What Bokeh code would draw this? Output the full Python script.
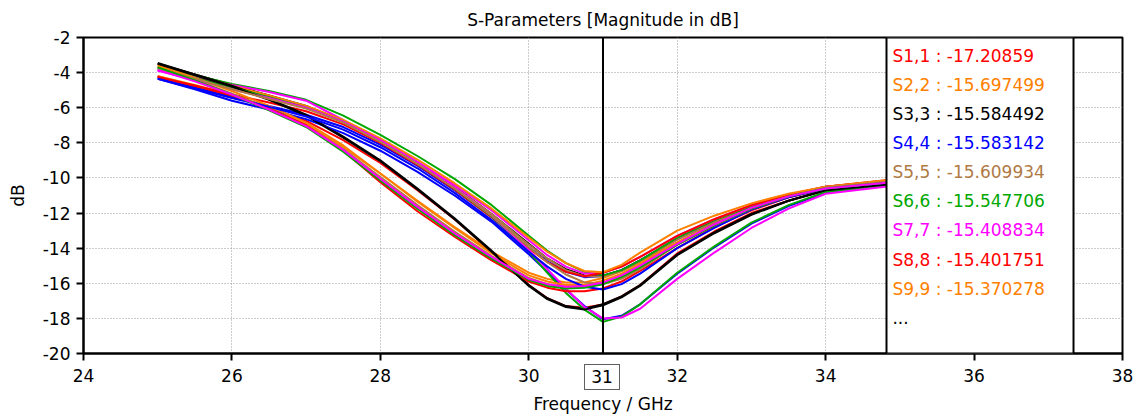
from bokeh.plotting import figure
from bokeh.models import Span, BoxAnnotation, Label, FixedTicker, ColumnDataSource, Div
from bokeh.layouts import column
from bokeh.embed import file_html
from bokeh.resources import INLINE

# ---------------- data ----------------
freq = [25, 25.5, 26, 26.5, 27, 27.5, 28, 28.5, 29, 29.5, 30, 30.25, 30.5, 30.75,
        31, 31.25, 31.5, 32, 32.5, 33, 33.5, 34, 35]

s1_1 = [-4.2, -4.75, -5.35, -6.0, -6.75, -7.85, -9.15, -10.7, -12.35, -14.2, -16.1, -16.85, -17.3, -17.4, -17.21, -16.75, -16.1, -14.3, -13.05, -12.0, -11.3, -10.7, -10.3]
s2_2 = [-4.2, -4.7, -5.25, -6.0, -6.95, -8.25, -9.75, -11.3, -12.8, -14.2, -15.4, -15.75, -15.95, -15.95, -15.70, -15.3, -14.8, -13.65, -12.6, -11.7, -11.05, -10.6, -10.15]
s3_3 = [-3.5, -4.1, -4.7, -5.3, -5.9, -6.75, -7.85, -9.1, -10.5, -12.05, -13.75, -14.6, -15.2, -15.55, -15.58, -15.25, -14.7, -13.45, -12.45, -11.6, -11.0, -10.55, -10.1]
s4_4 = [-4.3, -4.85, -5.4, -5.9, -6.4, -7.1, -8.1, -9.3, -10.7, -12.2, -13.95, -14.75, -15.35, -15.65, -15.58, -15.25, -14.7, -13.5, -12.5, -11.65, -11.05, -10.6, -10.15]
s5_5 = [-3.7, -4.3, -4.85, -5.4, -6.0, -6.8, -7.85, -9.1, -10.5, -12.05, -13.8, -14.6, -15.25, -15.6, -15.61, -15.3, -14.75, -13.5, -12.5, -11.65, -11.0, -10.55, -10.1]
s6_6 = [-3.65, -4.15, -4.65, -5.05, -5.55, -6.45, -7.55, -8.75, -10.05, -11.55, -13.3, -14.15, -14.85, -15.35, -15.55, -15.25, -14.7, -13.4, -12.4, -11.6, -10.95, -10.5, -10.1]
s7_7 = [-3.85, -4.3, -4.7, -5.1, -5.6, -6.7, -7.95, -9.1, -10.4, -11.85, -13.55, -14.4, -15.05, -15.45, -15.41, -15.05, -14.5, -13.3, -12.35, -11.55, -10.95, -10.5, -10.1]
s8_8 = [-4.25, -4.75, -5.25, -5.7, -6.2, -6.95, -8.0, -9.25, -10.65, -12.25, -14.0, -14.8, -15.35, -15.6, -15.40, -15.05, -14.5, -13.3, -12.35, -11.55, -10.95, -10.5, -10.05]
s9_9 = [-3.55, -4.15, -4.75, -5.3, -5.9, -6.7, -7.75, -8.95, -10.3, -11.75, -13.4, -14.2, -14.85, -15.3, -15.37, -14.95, -14.25, -13.0, -12.15, -11.45, -10.9, -10.5, -10.05]
s10_10 = [-3.45, -4.1, -4.75, -5.5, -6.4, -7.65, -9.0, -10.6, -12.3, -14.15, -16.1, -16.85, -17.3, -17.45, -17.19, -16.75, -16.1, -14.35, -13.1, -12.05, -11.3, -10.7, -10.3]
s11_11 = [-4.35, -4.95, -5.6, -6.1, -6.65, -7.45, -8.45, -9.65, -11.0, -12.5, -14.35, -15.35, -16.35, -17.3, -18.05, -17.85, -17.2, -15.45, -13.95, -12.6, -11.6, -10.85, -10.35]
s12_12 = [-3.7, -4.4, -5.2, -6.05, -7.0, -8.35, -9.95, -11.55, -13.05, -14.45, -15.7, -16.05, -16.25, -16.2, -16.0, -15.6, -15.05, -13.8, -12.7, -11.75, -11.1, -10.6, -10.2]
s13_13 = [-3.75, -4.3, -4.85, -5.4, -6.0, -6.8, -7.9, -9.15, -10.6, -12.2, -14.2, -15.4, -16.55, -17.5, -18.2, -17.9, -17.2, -15.4, -13.9, -12.55, -11.55, -10.8, -10.35]
s14_14 = [-3.9, -4.4, -4.95, -5.45, -6.0, -6.8, -7.85, -9.1, -10.55, -12.15, -14.1, -15.2, -16.3, -17.35, -18.0, -17.95, -17.45, -15.75, -14.25, -12.85, -11.75, -10.9, -10.4]
s15_15 = [-4.25, -4.75, -5.3, -6.05, -7.0, -8.45, -10.25, -11.9, -13.35, -14.7, -15.9, -16.25, -16.45, -16.45, -16.3, -15.9, -15.3, -14.0, -12.8, -11.85, -11.1, -10.6, -10.2]
s16_16 = [-3.6, -4.3, -5.05, -5.9, -6.85, -8.15, -9.75, -11.35, -12.85, -14.3, -15.55, -15.9, -16.1, -16.1, -15.85, -15.45, -14.9, -13.7, -12.65, -11.75, -11.05, -10.6, -10.2]
s17_17 = [-3.5, -4.15, -4.8, -5.55, -6.45, -7.7, -9.05, -10.65, -12.35, -14.2, -16.15, -16.9, -17.35, -17.5, -17.25, -16.8, -16.15, -14.4, -13.15, -12.1, -11.3, -10.7, -10.3]
s18_18 = [-4.35, -4.9, -5.45, -5.95, -6.5, -7.25, -8.25, -9.45, -10.85, -12.4, -14.2, -15.05, -15.75, -16.2, -16.35, -16.05, -15.45, -14.0, -12.85, -11.8, -11.1, -10.6, -10.2]
s19_19 = [-3.75, -4.35, -4.95, -5.5, -6.05, -6.85, -7.95, -9.2, -10.6, -12.15, -13.95, -14.8, -15.5, -15.95, -16.05, -15.75, -15.2, -13.8, -12.7, -11.75, -11.05, -10.55, -10.15]
s20_20 = [-3.7, -4.45, -5.25, -6.15, -7.1, -8.5, -10.15, -11.75, -13.25, -14.6, -15.8, -16.15, -16.3, -16.25, -16.05, -15.65, -15.1, -13.8, -12.7, -11.75, -11.05, -10.6, -10.2]
s21_21 = [-3.85, -4.5, -5.25, -6.1, -7.05, -8.4, -10.05, -11.65, -13.15, -14.5, -15.75, -16.05, -16.2, -16.15, -15.95, -15.55, -15.0, -13.75, -12.65, -11.7, -11.05, -10.6, -10.2]

series = [s1_1, s2_2, s3_3, s4_4, s5_5, s6_6, s7_7, s8_8, s9_9, s10_10, s11_11,
          s12_12, s13_13, s14_14, s15_15, s16_16, s17_17, s18_18, s19_19, s20_20, s21_21]

marker_freq = 31
marker_names = ["S1,1", "S2,2", "S3,3", "S4,4", "S5,5", "S6,6", "S7,7", "S8,8", "S9,9"]
marker_values = ["-17.20859", "-15.697499", "-15.584492", "-15.583142", "-15.609934",
                 "-15.547706", "-15.408834", "-15.401751", "-15.370278"]

x_ticks = [24, 26, 28, 30, 32, 34, 36, 38]
y_ticks = [-20, -18, -16, -14, -12, -10, -8, -6, -4, -2]

palette = ["#ff0000", "#ff8000", "#000000", "#0000ff", "#b07a45", "#00a800", "#ff00ff"]

FONT = "DejaVu Sans"
FS = "17px"

# ---------------- figure ----------------
p = figure(width=1137, height=419, output_backend="svg", toolbar_location=None,
           x_range=(24, 38), y_range=(-20, -2),
           title="S-Parameters [Magnitude in dB]",
           x_axis_label="Frequency / GHz", y_axis_label="dB",
           min_border_left=83, min_border_right=15, min_border_top=37, min_border_bottom=66)

p.background_fill_color = "white"
p.border_fill_color = "white"
p.outline_line_color = "black"
p.outline_line_width = 2

p.title.align = "center"
p.title.text_font = FONT
p.title.text_font_size = FS
p.title.text_font_style = "normal"
p.title.text_color = "black"
p.title.standoff = 15

p.xaxis.ticker = FixedTicker(ticks=x_ticks)
p.yaxis.ticker = FixedTicker(ticks=y_ticks)
p.xaxis.major_label_overrides = {t: str(t) for t in x_ticks}
p.yaxis.major_label_overrides = {t: str(t) for t in y_ticks}
for ax in (p.xaxis[0], p.yaxis[0]):
    ax.axis_line_width = 2
    ax.axis_line_color = "black"
    ax.major_tick_in = 0
    ax.major_tick_out = 7
    ax.major_tick_line_width = 2
    ax.major_tick_line_color = "black"
    ax.minor_tick_line_color = None
    ax.major_label_text_font = FONT
    ax.major_label_text_font_size = FS
    ax.major_label_text_color = "black"
    ax.axis_label_text_font = FONT
    ax.axis_label_text_font_size = FS
    ax.axis_label_text_font_style = "normal"
    ax.axis_label_text_color = "black"
p.xaxis.major_label_standoff = 8
p.xaxis.axis_label_standoff = 9
p.yaxis.major_label_standoff = 6
p.yaxis.axis_label_standoff = 12

for g in (p.xgrid[0], p.ygrid[0]):
    g.grid_line_color = "#999999"
    g.grid_line_dash = "1 2"
    g.grid_line_width = 1

# ---------------- curves ----------------
for i, vals in enumerate(series):
    src = ColumnDataSource(data=dict(f=freq, db=vals))
    p.line("f", "db", source=src, line_color=palette[i % len(palette)],
           line_width=2, line_join="round")

# marker line
p.add_layout(Span(location=marker_freq, dimension="height",
                  line_color="black", line_width=2))

# marker value box
p.add_layout(BoxAnnotation(left=34.82, right=37.34, bottom=-20, top=-2,
                           fill_color="white", fill_alpha=1.0,
                           line_color="black", line_alpha=1.0, line_width=2))

row_top = -3.03
row_step = 1.66
for i, (nm, v) in enumerate(zip(marker_names, marker_values)):
    p.add_layout(Label(x=34.9, y=row_top - i * row_step,
                       text=f"{nm} : {v}",
                       text_color=palette[i % len(palette)],
                       text_font=FONT, text_font_size=FS,
                       text_baseline="middle", text_align="left"))
p.add_layout(Label(x=34.9, y=row_top - len(marker_names) * row_step,
                   text="...", text_color="black",
                   text_font=FONT, text_font_size=FS,
                   text_baseline="middle", text_align="left"))

# boxed marker frequency below the axis (overlaid on the plot's bottom margin)
marker_box = Div(text=str(marker_freq), width=36, height=26,
                 margin=(-55, 0, 0, 584),
                 styles={"border": "1px solid #606060", "box-sizing": "border-box",
                         "background-color": "white", "font-family": FONT,
                         "font-size": FS, "line-height": "24px",
                         "text-align": "center", "color": "black",
                         "overflow": "hidden"})

layout = column(p, marker_box, spacing=0)

open("out.html", "w").write(file_html(layout, INLINE))
